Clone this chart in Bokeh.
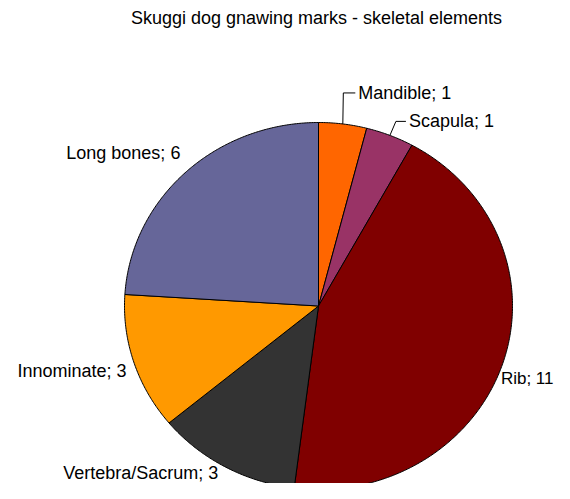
import numpy as np
from bokeh.plotting import figure
from bokeh.models import Range1d
from bokeh.core.properties import value
from bokeh.embed import file_html
from bokeh.resources import INLINE

# ---- data ----
categories = ["Mandible", "Scapula", "Rib", "Vertebra/Sacrum", "Innominate", "Long bones"]
counts = [1, 1, 11, 3, 3, 6]
colors = ["#FF6600", "#993366", "#800000", "#333333", "#FF9900", "#666699"]
title_text = "Skuggi dog gnawing marks - skeletal elements"

# ---- layout (data space = picture pixels) ----
W, H = 554, 483
CX, CY = 318.0, 305.5
RX, RY = 194.0, 183.5
FONT = "Liberation Sans"
FSIZE = 18
# leader-line labels: elbow offset from slice edge (px), tail length
leaders = {"Mandible": (0.5, -31.0, 12.0), "Scapula": (6.0, -14.0, 10.0)}

# approximate Arial advance widths (em) for fitting labels inside the canvas
_w = {c: 0.556 for c in "abdeghnopqu0123456789"}
_w.update({"c": 0.5, "k": 0.5, "s": 0.5, "v": 0.5, "i": 0.222, "l": 0.222, "t": 0.278,
           "r": 0.333, "m": 0.833, "w": 0.722, " ": 0.278, ";": 0.278, "/": 0.278,
           "R": 0.722, "S": 0.667, "V": 0.667, "I": 0.278, "L": 0.556, "M": 0.833})


def text_width(s, size):
    return sum(_w.get(ch, 0.6) for ch in s) * size


p = figure(width=W, height=H, output_backend="svg", toolbar_location=None,
           x_range=Range1d(0, W), y_range=Range1d(H, 0),
           min_border=0)
p.axis.visible = False
p.grid.visible = False
p.outline_line_color = None
p.background_fill_color = "white"

vals = np.array(counts, dtype=float)
frac = vals / vals.sum()
ends = np.cumsum(frac) * 2 * np.pi
starts = ends - frac * 2 * np.pi

xs, ys = [], []
for a0, a1 in zip(starts, ends):
    n = max(3, int(np.degrees(a1 - a0) * 2) + 2)
    t = np.linspace(a0, a1, n)
    xs.append([CX] + list(CX + RX * np.sin(t)))
    ys.append([CY] + list(CY - RY * np.cos(t)))

p.patches(xs, ys, fill_color=colors, line_color="black", line_width=1)

# labels
for name, c, a0, a1 in zip(categories, counts, starts, ends):
    m = (a0 + a1) / 2
    dx, dy = np.sin(m), -np.cos(m)
    label = f"{name}; {c}"
    size = FSIZE
    if name in leaders:
        ox, oy, tail = leaders[name]
        ex, ey = CX + RX * dx, CY + RY * dy
        bx, by = ex + ox, ey + oy
        p.line([ex, bx, bx + tail], [ey, by, by], line_color="black", line_width=1)
        x, y, align = bx + tail + 3, by, "left"
    else:
        k = 1.04
        x = CX + RX * k * dx
        y = CY + RY * k * dy + 18.5 * dy
        align = "left" if dx > 0 else "right"
        # keep the whole label inside the canvas (and clear of the pie)
        if align == "left" and x + text_width(label, size) > W - 1:
            size = FSIZE - 1
            x, align = W - 1, "right"
            y += 8
        if y + 11 > H:
            y = H - 11
            x -= 3
    p.text(x=[x], y=[y], text=[label], text_align=align, text_baseline="middle",
           text_font=value(FONT), text_font_size=f"{size}px", text_color="black")

p.text(x=[316], y=[17], text=[title_text], text_align="center", text_baseline="middle",
       text_font=value(FONT), text_font_size=f"{FSIZE}px", text_color="black")

open("out.html", "w").write(file_html(p, INLINE))
